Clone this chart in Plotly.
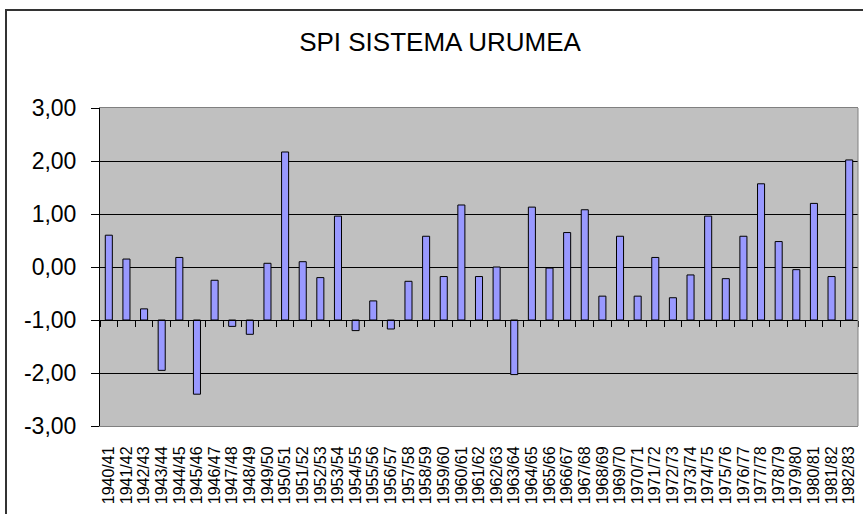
import plotly.graph_objects as go

seasons = [
    "1940/41", "1941/42", "1942/43", "1943/44", "1944/45", "1945/46", "1946/47",
    "1947/48", "1948/49", "1949/50", "1950/51", "1951/52", "1952/53", "1953/54",
    "1954/55", "1955/56", "1956/57", "1957/58", "1958/59", "1959/60", "1960/61",
    "1961/62", "1962/63", "1963/64", "1964/65", "1965/66", "1966/67", "1967/68",
    "1968/69", "1969/70", "1970/71", "1971/72", "1972/73", "1973/74", "1974/75",
    "1975/76", "1976/77", "1977/78", "1978/79", "1979/80", "1980/81", "1981/82",
    "1982/83",
]
spi = [
    0.60, 0.15, -0.79, -1.95, 0.18, -2.40, -0.25,
    -1.12, -1.27, 0.07, 2.17, 0.10, -0.20, 0.96,
    -1.20, -0.64, -1.17, -0.27, 0.58, -0.18, 1.17,
    -0.18, 0.00, -2.03, 1.13, -0.02, 0.65, 1.08,
    -0.55, 0.58, -0.55, 0.18, -0.58, -0.15, 0.96,
    -0.22, 0.58, 1.57, 0.48, -0.05, 1.20, -0.18,
    2.02,
]
y_tick_values = [-3, -2, -1, 0, 1, 2, 3]
y_tick_labels = ["-3,00", "-2,00", "-1,00", "0,00", "1,00", "2,00", "3,00"]
axis_cross = -1.0
title_text = "SPI SISTEMA URUMEA"

W, H = 863, 514
L, R, T, B = 100, 5, 108, 88
pw, ph = W - L - R, H - T - B

FONT = "Liberation Sans, Arial, sans-serif"
x_range = [-0.5, len(seasons) - 0.5]

fig = go.Figure()
fig.add_trace(go.Bar(
    x=seasons,
    y=[v - axis_cross for v in spi],
    base=axis_cross,
    marker=dict(color="#9999FF", line=dict(color="#000000", width=1)),
    customdata=spi,
    hovertemplate="%{x}: %{customdata:.2f}<extra></extra>",
    showlegend=False,
))
# helper trace that carries the category axis drawn at y = -1
fig.add_trace(go.Scatter(
    x=seasons, y=spi, xaxis="x2", mode="markers",
    marker=dict(opacity=0), hoverinfo="skip", showlegend=False,
))

fig.update_layout(
    width=W, height=H,
    margin=dict(l=L, r=R, t=T, b=B, autoexpand=False),
    paper_bgcolor="#FFFFFF",
    plot_bgcolor="#C0C0C0",
    bargap=0.6,
    font=dict(family=FONT, color="#000000"),
    title=dict(
        text=title_text, x=440 / W, xref="container", xanchor="center",
        y=1 - 42 / H, yref="container", yanchor="middle",
        font=dict(family=FONT, size=26, color="#000000"),
    ),
    xaxis=dict(
        type="category", range=x_range, autorange=False,
        showgrid=False, zeroline=False,
        showline=True, linecolor="#808080", linewidth=1, mirror=True,
        tickmode="linear", tick0=0, dtick=1,
        ticks="", tickangle=-90, tickfont=dict(family=FONT, size=16),
        ticklabelstandoff=13,
    ),
    xaxis2=dict(
        type="category", overlaying="x", matches="x", anchor="free",
        range=x_range, autorange=False,
        position=(axis_cross - y_tick_values[0]) / (y_tick_values[-1] - y_tick_values[0]),
        showline=True, linecolor="#000000", linewidth=1,
        ticks="outside", ticklen=6, tickcolor="#000000", tickson="boundaries",
        tickmode="linear", tick0=0, dtick=1,
        showticklabels=False, showgrid=False, zeroline=False,
    ),
    yaxis=dict(
        range=[y_tick_values[0], y_tick_values[-1]],
        tickvals=y_tick_values, ticktext=y_tick_labels,
        showgrid=True, gridcolor="#000000", gridwidth=1,
        zeroline=False, showline=True, linecolor="#000000", linewidth=1,
        ticks="outside", ticklen=8, tickcolor="#000000",
        tickfont=dict(family=FONT, size=23), ticklabelstandoff=10,
    ),
    shapes=[
        dict(type="line", xref="paper", yref="paper", x0=1, x1=1, y0=0, y1=1,
             line=dict(color="#808080", width=1)),
        dict(type="rect", xref="paper", yref="paper",
             x0=(6 - L) / pw, x1=(W + 10 - L) / pw,
             y0=(H - B - (H + 10)) / ph, y1=(H - B - 10) / ph,
             line=dict(color="#333333", width=2), fillcolor="rgba(0,0,0,0)"),
    ],
)

fig.write_html(
    "out.html",
    config={"displayModeBar": False},
    post_script="document.body.style.margin='0';document.body.style.overflow='hidden';",
)
